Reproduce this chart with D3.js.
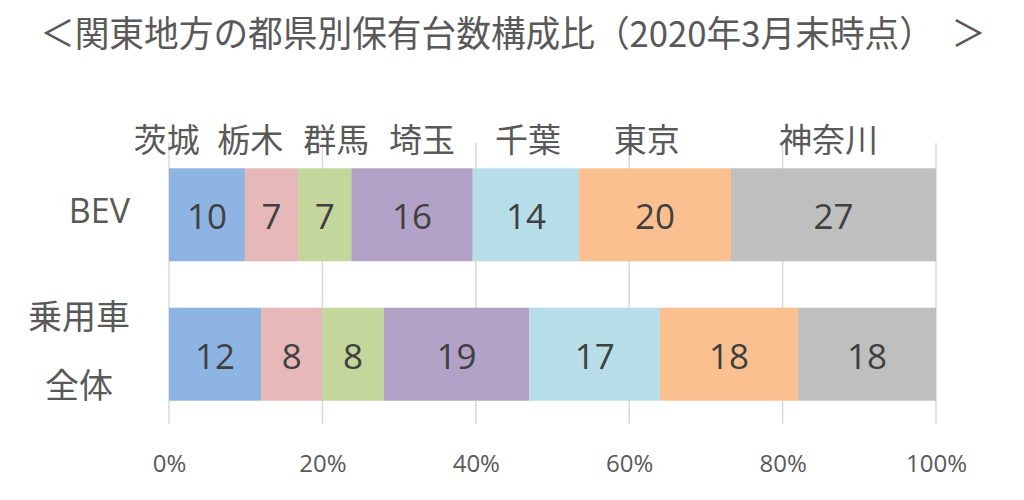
<!DOCTYPE html>
<html>
<head>
<meta charset="utf-8">
<script src="https://cdn.jsdelivr.net/npm/d3@7"></script>
<style>
  body { margin: 0; background: #fff; }
  svg { display: block; font-family: "Open Sans", "Noto Sans CJK JP", sans-serif; }
</style>
</head>
<body>
<svg id="chart" width="1024" height="500"></svg>
<script>
// data
const rowNames = ["BEV", "乗用車全体"];
const rowLabelLines = [["BEV"], ["乗用車", "全体"]];
const prefectures = ["茨城", "栃木", "群馬", "埼玉", "千葉", "東京", "神奈川"];
const bevShares = [10, 7, 7, 16, 14, 20, 27];
const allCarShares = [12, 8, 8, 19, 17, 18, 18];
const xTicks = [0, 0.2, 0.4, 0.6, 0.8, 1];
const title = "＜関東地方の都県別保有台数構成比（2020年3月末時点）　＞";

// where the prefecture names sit above the bars (in % of the axis)
const headerAt = [-0.3, 10.6, 21.8, 33.0, 46.8, 62.3, 86.0];

const colors = ["#8EB4E3", "#E6B9B8", "#C3D69B", "#B3A2C7", "#B7DEE8", "#FAC090", "#BFBFBF"];

const svg = d3.select("#chart");
const margin = { top: 145, left: 169, right: 88, bottom: 76 };
const width = 1024, height = 500;

const table = rowNames.map((name, i) => {
    const src = i === 0 ? bevShares : allCarShares;
    const row = { name };
    prefectures.forEach((p, j) => row[p] = src[j]);
    return row;
});

const series = d3.stack()
    .keys(prefectures)
    .offset(d3.stackOffsetExpand)(table);

const x = d3.scaleLinear()
    .domain([0, 1])
    .range([margin.left, width - margin.right]);

const y = d3.scaleBand()
    .domain(rowNames)
    .range([margin.top, height - margin.bottom])
    .paddingInner(0.333)
    .paddingOuter(0.167);

const color = d3.scaleOrdinal().domain(prefectures).range(colors);

// title
svg.append("text")
    .attr("x", 40)
    .attr("y", 31)
    .attr("dominant-baseline", "central")
    .attr("font-family", "'Noto Sans CJK JP', sans-serif")
    .attr("font-size", 36)
    .attr("fill", "#595959")
    .attr("textLength", 946)
    .attr("lengthAdjust", "spacingAndGlyphs")
    .text(title);

// grid lines
svg.append("g")
    .selectAll("line")
    .data(xTicks)
    .join("line")
    .attr("x1", d => x(d)).attr("x2", d => x(d))
    .attr("y1", margin.top - 2)
    .attr("y2", height - margin.bottom)
    .attr("stroke", "#d9d9d9")
    .attr("stroke-width", 1.5);

// axis tick labels
const xAxis = svg.append("g")
    .attr("transform", `translate(0,${height - margin.bottom})`)
    .call(d3.axisBottom(x).tickValues(xTicks).tickFormat(d3.format(".0%")).tickSize(0).tickPadding(0));
xAxis.select(".domain").remove();
xAxis.selectAll("text")
    .attr("y", 0)
    .attr("dy", null)
    .attr("transform", "translate(0,38)")
    .attr("dominant-baseline", "central")
    .attr("font-family", "'Open Sans', sans-serif")
    .attr("font-size", 24)
    .attr("fill", "#595959");

// bars
const groups = svg.append("g")
    .selectAll("g")
    .data(series)
    .join("g")
    .attr("fill", d => color(d.key));

groups.selectAll("rect")
    .data(d => d.map(v => Object.assign(v, { key: d.key })))
    .join("rect")
    .attr("x", d => x(d[0]))
    .attr("y", d => y(d.data.name))
    .attr("width", d => x(d[1]) - x(d[0]))
    .attr("height", y.bandwidth());

// value labels
groups.selectAll("text")
    .data(d => d)
    .join("text")
    .attr("x", d => (x(d[0]) + x(d[1])) / 2)
    .attr("y", d => y(d.data.name) + y.bandwidth() / 2 + 1)
    .attr("text-anchor", "middle")
    .attr("dominant-baseline", "central")
    .attr("font-size", 35)
    .attr("fill", "#404040")
    .text(d => d.data[d.key]);

// prefecture names above the bars
svg.append("g")
    .selectAll("text")
    .data(prefectures)
    .join("text")
    .attr("x", (d, i) => x(headerAt[i] / 100))
    .attr("y", 138)
    .attr("text-anchor", "middle")
    .attr("dominant-baseline", "central")
    .attr("font-family", "'Noto Sans CJK JP', sans-serif")
    .attr("font-size", 33)
    .attr("fill", "#595959")
    .text(d => d);

// row labels (block right-aligned, lines centred inside it)
const labelRight = 130;
rowNames.forEach((name, i) => {
    const lines = rowLabelLines[i];
    const g = svg.append("g");
    const cy = y(name) + y.bandwidth() / 2;
    const texts = lines.map((line, k) => g.append("text")
        .attr("y", cy - 5 + (k - (lines.length - 1) / 2) * 69)
        .attr("text-anchor", "middle")
        .attr("dominant-baseline", "central")
        .attr("font-family", /^[A-Za-z]+$/.test(line) ? "'Open Sans', sans-serif" : "'Noto Sans CJK JP', sans-serif")
        .attr("font-size", 34)
        .attr("fill", "#595959")
        .text(line));
    const w = d3.max(texts, tx => tx.node().getComputedTextLength());
    texts.forEach(tx => tx.attr("x", labelRight - w / 2));
});
</script>
</body>
</html>
